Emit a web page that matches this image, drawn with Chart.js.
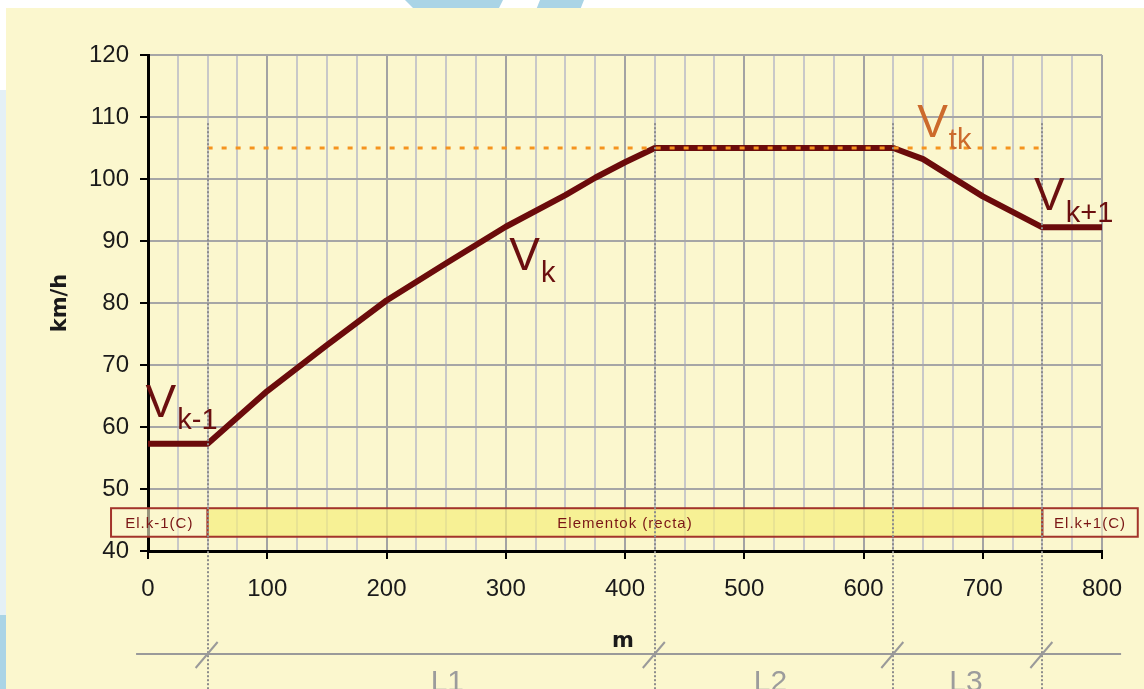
<!DOCTYPE html>
<html>
<head>
<meta charset="utf-8">
<script src="https://cdn.jsdelivr.net/npm/chart.js@4"></script>
<style>
  html, body { margin: 0; padding: 0; background: #fff; }
  #speedChart { display: block; }
</style>
</head>
<body>
<canvas id="speedChart" width="1144" height="689"></canvas>
<script>
// speed profile along the element (m -> km/h)
const dist  = [0, 50, 100, 150, 200, 250, 300, 350, 375, 400, 425, 625, 650, 700, 750, 800];
const speed = [57.3, 57.3, 65.8, 73.2, 80.4, 86.4, 92.3, 97.4, 100.2, 102.7, 105, 105, 103.2, 97.2, 92.2, 92.2];

// target speed Vtk
const vtk = 105;
const vtkFrom = 50;
const vtkTo = 750;

// section boundaries and labels
const dividers = [50, 425, 625, 750];
const segLabels = ["L1", "L2", "L3"];
const segPos = [251, 522, 686];

// element band under the curve
const elemLabels = ["El.k-1(C)", "Elementok (recta)", "El.k+1(C)"];
const elemFrom = [-31, 50, 750];
const elemTo = [50, 750, 830];
const bandLow = 42.3;
const bandHigh = 46.9;

// V labels
const vSubs = ["k-1", "k", "tk", "k+1"];
const vX = [-2, 303, 645, 743];
const vY = [61.6, 85.3, 106.8, 95];
const vColors = ["#6B0F0F", "#6B0F0F", "#CC6A2C", "#6B0F0F"];

const FONT = "'Liberation Sans', Arial, sans-serif";

const backdrop = {
  id: "backdrop",
  beforeDraw(chart) {
    const ctx = chart.ctx;
    ctx.save();
    ctx.fillStyle = "#ffffff";
    ctx.fillRect(0, 0, chart.width, chart.height);
    // light blue decorations peeking out at the edges
    ctx.fillStyle = "#AAD4E6";
    ctx.beginPath();
    ctx.moveTo(405, 0); ctx.lineTo(503, 0); ctx.lineTo(498, 10); ctx.lineTo(415, 10); ctx.closePath();
    ctx.fill();
    ctx.beginPath();
    ctx.moveTo(540, 0); ctx.lineTo(584, 0); ctx.lineTo(580, 10); ctx.lineTo(536, 10); ctx.closePath();
    ctx.fill();
    ctx.fillStyle = "#E4F0F6";
    ctx.fillRect(0, 90, 8, 530);
    ctx.fillStyle = "#AAD4E6";
    ctx.fillRect(0, 615, 8, 74);
    // yellow panel
    ctx.fillStyle = "#FBF7CE";
    ctx.fillRect(6, 8, chart.width - 6, chart.height - 8);
    ctx.restore();
  }
};

const annotations = {
  id: "annotations",
  afterDraw(chart) {
    const ctx = chart.ctx;
    const xs = chart.scales.x, ys = chart.scales.y;
    const area = chart.chartArea;
    ctx.save();

    // element band
    const top = ys.getPixelForValue(bandHigh);
    const bot = ys.getPixelForValue(bandLow);
    elemLabels.forEach((lab, i) => {
      const l = xs.getPixelForValue(elemFrom[i]);
      const r = xs.getPixelForValue(elemTo[i]);
      ctx.fillStyle = i === 1 ? "rgba(245,238,125,0.7)" : "rgba(251,247,206,0.6)";
      ctx.fillRect(l, top, r - l, bot - top);
      ctx.strokeStyle = "#A3342B";
      ctx.lineWidth = 2;
      ctx.strokeRect(l, top, r - l, bot - top);
      ctx.fillStyle = "#7A1515";
      ctx.font = "15px " + FONT;
      ctx.letterSpacing = "1px";
      ctx.textAlign = "center";
      ctx.textBaseline = "middle";
      ctx.fillText(lab, (l + r) / 2, (top + bot) / 2 + 1);
    });
    ctx.letterSpacing = "0px";

    // dotted section boundaries
    ctx.strokeStyle = "#8C8C8C";
    ctx.lineWidth = 2;
    ctx.setLineDash([2, 2]);
    dividers.forEach(d => {
      const px = Math.round(xs.getPixelForValue(d));
      ctx.beginPath();
      ctx.moveTo(px, ys.getPixelForValue(109));
      ctx.lineTo(px, chart.height);
      ctx.stroke();
    });
    ctx.setLineDash([]);

    // length line with slashes
    const ly = area.bottom + 103;
    ctx.strokeStyle = "#9A9A9A";
    ctx.lineWidth = 2;
    ctx.beginPath();
    ctx.moveTo(xs.getPixelForValue(-10), ly);
    ctx.lineTo(xs.getPixelForValue(816), ly);
    ctx.stroke();
    dividers.forEach(d => {
      const px = xs.getPixelForValue(d);
      ctx.beginPath();
      ctx.moveTo(px - 12, ly + 14);
      ctx.lineTo(px + 10, ly - 12);
      ctx.stroke();
    });
    ctx.fillStyle = "#9C9C9C";
    ctx.font = "30px " + FONT;
    ctx.textAlign = "center";
    ctx.textBaseline = "alphabetic";
    segLabels.forEach((s, i) => ctx.fillText(s, xs.getPixelForValue(segPos[i]), chart.height + 2));

    // axis titles
    ctx.fillStyle = "#1a1a1a";
    ctx.font = "bold 21px 'DejaVu Sans', sans-serif";
    ctx.textAlign = "center";
    ctx.fillText("m", 623, area.bottom + 96);
    ctx.save();
    ctx.translate(66, 303);
    ctx.rotate(-Math.PI / 2);
    ctx.fillText("km/h", 0, 0);
    ctx.restore();

    // V labels
    ctx.textAlign = "left";
    vSubs.forEach((s, i) => {
      const px = xs.getPixelForValue(vX[i]);
      const py = ys.getPixelForValue(vY[i]);
      ctx.fillStyle = vColors[i];
      ctx.font = "46px " + FONT;
      ctx.fillText("V", px, py);
      const w = ctx.measureText("V").width;
      ctx.font = "29px " + FONT;
      ctx.fillText(s, px + w + 1, py + 12);
    });

    ctx.restore();
  }
};

const profile = dist.map((d, i) => ({ x: d, y: speed[i] }));
const target = [{ x: vtkFrom, y: vtk }, { x: vtkTo, y: vtk }];

const config = {
  type: "line",
  data: {
    datasets: [
      {
        label: "Vtk",
        data: target,
        borderColor: "#F5941E",
        borderWidth: 3,
        borderDash: [5, 9],
        pointRadius: 0,
        order: 0
      },
      {
        label: "V",
        data: profile,
        borderColor: "#6B0B0B",
        borderWidth: 6,
        borderJoinStyle: "round",
        pointRadius: 0,
        tension: 0,
        order: 1
      }
    ]
  },
  options: {
    responsive: false,
    animation: false,
    layout: { padding: { top: 55, right: 42, bottom: 0, left: 0 } },
    plugins: { legend: { display: false }, tooltip: { enabled: false } },
    scales: {
      x: {
        type: "linear",
        min: 0,
        max: 800,
        afterFit: s => { s.height = 138; },
        ticks: {
          stepSize: 25,
          autoSkip: false,
          maxRotation: 0,
          padding: 16,
          color: "#1a1a1a",
          font: { family: FONT, size: 24 },
          callback: v => (v % 100 === 0 ? v : "")
        },
        grid: {
          lineWidth: 2,
          tickLength: 8,
          tickWidth: 2,
          color: c => (c.tick.value === 0 ? "rgba(0,0,0,0)" : c.tick.value % 100 === 0 ? "#A3A3A3" : "#C8C8C8"),
          tickColor: c => (c.tick.value % 100 === 0 ? "#000" : "rgba(0,0,0,0)")
        },
        border: { color: "#000", width: 3 }
      },
      y: {
        min: 40,
        max: 120,
        afterFit: s => { s.width = 148; },
        ticks: {
          stepSize: 10,
          padding: 11,
          color: "#1a1a1a",
          font: { family: FONT, size: 24 }
        },
        grid: {
          lineWidth: 2,
          tickLength: 8,
          tickWidth: 2,
          color: c => (c.tick.value === 40 ? "rgba(0,0,0,0)" : "#A6A6A6"),
          tickColor: "#000"
        },
        border: { color: "#000", width: 3 }
      }
    }
  },
  plugins: [backdrop, annotations]
};

const speedChart = new Chart(document.getElementById("speedChart"), config);
</script>
</body>
</html>
